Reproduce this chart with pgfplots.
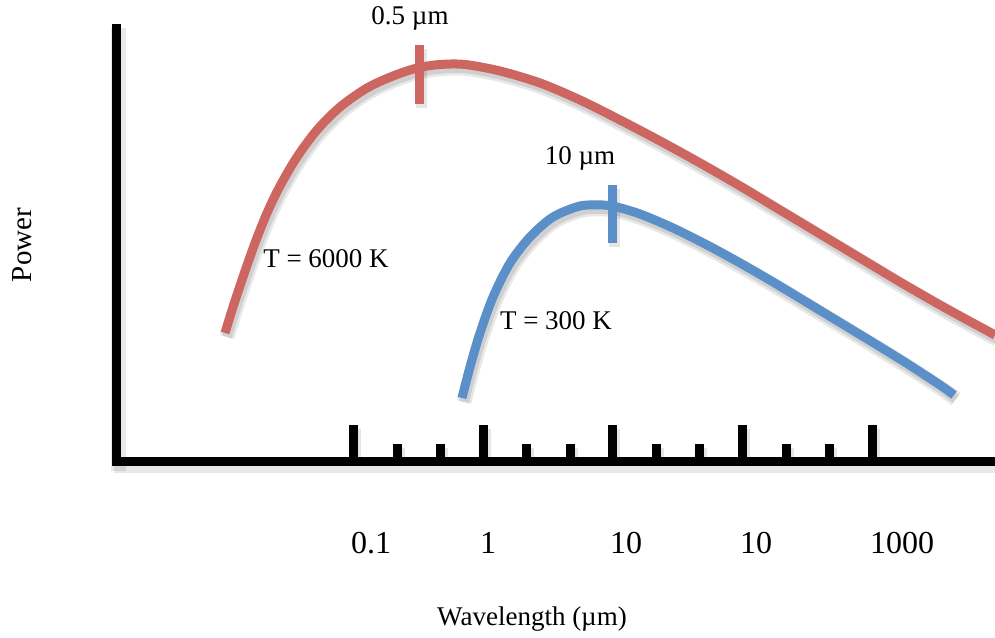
\documentclass[border=0pt]{standalone}
\usepackage{fontspec}
\setmainfont{Liberation Serif}
\usepackage{pgfplots}
\pgfplotsset{compat=1.18}
\definecolor{redc}{RGB}{205,102,96}
\definecolor{bluec}{RGB}{91,143,200}
\pgfplotstableread{
x y
225 129
233 155
243 185
255 219
267 249
280 276
297 305
317 332
340 355
367 374
393 386
417 394
440 397.5
465 397.5
500 391
540 379
580 362
620 342
660 321
700 299
740 276
780 252
820 228
860 204
900 180
940 157
970 140.5
995 127
}\redtab
\pgfplotstableread{
x y
462 64
470 95
480 129
493 165
510 199
530 225
553 245
580 256
603 257
613 256
640 248
673 234
707 217
740 199
773 180
807 159.5
840 139.5
873 119.5
907 98.5
940 77
954 67
}\bluetab
\begin{document}
\begin{tikzpicture}
\begin{axis}[x=1pt,y=1pt,xmin=0,xmax=995,ymin=-175,ymax=462,
  axis line style={draw=none},xtick=\empty,ytick=\empty,clip=false,
  shA/.style={black,opacity=0.09,line width=15pt,xshift=2pt,yshift=-4pt,line cap=butt},
  shB/.style={black,opacity=0.10,line width=10pt,xshift=2pt,yshift=-4pt,line cap=butt},
  shC/.style={black,opacity=0.10,line width=11pt,xshift=2pt,yshift=-4pt,line cap=butt}]
% shadows of curves
\addplot[shA,smooth,tension=0.5] table {\redtab};
\addplot[shB,smooth,tension=0.5] table {\redtab};
\addplot[shA,smooth,tension=0.5] table {\bluetab};
\addplot[shB,smooth,tension=0.5] table {\bluetab};
\addplot[shC] coordinates {(419,358)(419,417)};
\addplot[shC] coordinates {(612,219)(612,277)};
% shadows of axes
\addplot[shA] coordinates {(116,438)(116,-5)};
\addplot[shA] coordinates {(112,0)(995,0)};
\addplot[shC,ycomb] coordinates {(353,37)(483,37)(612,37)(742,37)(872,37)};
\addplot[shC,ycomb] coordinates {(397,18)(440,18)(526,18)(570,18)(656,18)(699,18)(786,18)(829,18)};
% curves
\addplot[redc,line width=9pt,smooth,tension=0.5,line cap=butt] table {\redtab};
\addplot[bluec,line width=9pt,smooth,tension=0.5,line cap=butt] table {\bluetab};
\addplot[redc,line width=9pt,line cap=butt] coordinates {(419,358)(419,417)};
\addplot[bluec,line width=9pt,line cap=butt] coordinates {(612,219)(612,277)};
% axes
\addplot[black,line width=9pt,line cap=butt] coordinates {(116,438)(116,-4.5)};
\addplot[black,line width=9pt,line cap=butt] coordinates {(111.5,0)(995,0)};
\addplot[black,line width=9pt,ycomb,line cap=butt] coordinates {(353,37)(483,37)(612,37)(742,37)(872,37)};
\addplot[black,line width=9pt,ycomb,line cap=butt] coordinates {(397,18)(440,18)(526,18)(570,18)(656,18)(699,18)(786,18)(829,18)};
% texts
\node[font=\fontsize{32}{36}\selectfont] at (axis cs:371,-81) {0.1};
\node[font=\fontsize{32}{36}\selectfont] at (axis cs:488,-81) {1};
\node[font=\fontsize{32}{36}\selectfont] at (axis cs:626,-81) {10};
\node[font=\fontsize{32}{36}\selectfont] at (axis cs:756,-81) {10};
\node[font=\fontsize{32}{36}\selectfont] at (axis cs:902,-81) {1000};
\node[font=\fontsize{27}{32}\selectfont] at (axis cs:532,-157) {Wavelength (µm)};
\node[font=\fontsize{29}{32}\selectfont,rotate=90] at (axis cs:22,217) {Power};
\node[font=\fontsize{27}{32}\selectfont] at (axis cs:410,444) {0.5 µm};
\node[font=\fontsize{27}{32}\selectfont] at (axis cs:580,304) {10 µm};
\node[font=\fontsize{27}{32}\selectfont] at (axis cs:326,203) {T = 6000 K};
\node[font=\fontsize{27}{32}\selectfont] at (axis cs:556,141) {T = 300 K};
\end{axis}
\pgfresetboundingbox
\path[use as bounding box] (0,0) rectangle (995pt,637pt);
\end{tikzpicture}
\end{document}
